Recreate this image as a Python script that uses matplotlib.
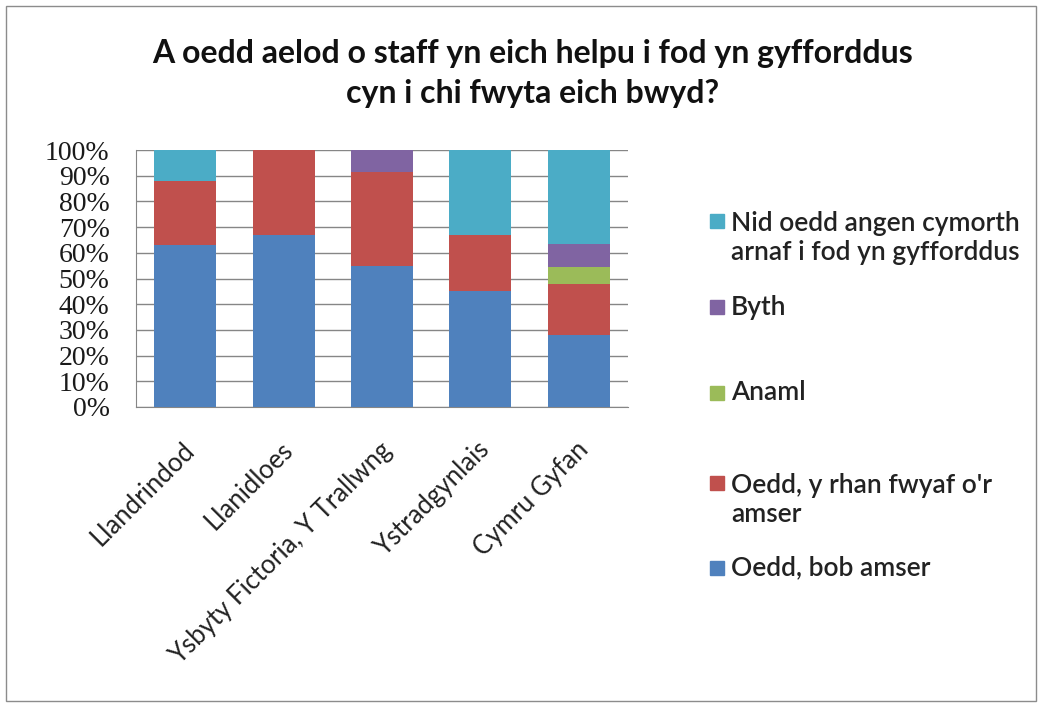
import matplotlib
matplotlib.use("Agg")
import matplotlib.pyplot as plt
from matplotlib.patches import Rectangle
import matplotlib.transforms as mtransforms
import numpy as np

plt.rcParams['font.family'] = ['Lato', 'DejaVu Sans']

categories = ["Llandrindod", "Llanidloes", "Ysbyty Fictoria, Y Trallwng", "Ystradgynlais", "Cymru Gyfan"]
series_names = ["Oedd, bob amser", "Oedd, y rhan fwyaf o'r\namser", "Anaml", "Byth",
                "Nid oedd angen cymorth\narnaf i fod yn gyfforddus"]
oedd_bob_amser = [63, 67, 55, 45, 28]
oedd_rhan_fwyaf = [25, 33, 36.5, 22, 19.7]
anaml = [0, 0, 0, 0, 6.6]
byth = [0, 0, 8.5, 0, 9.3]
nid_oedd_angen = [12, 0, 0, 33, 36.4]
colors = ["#4F81BD", "#C0504D", "#9BBB59", "#8064A2", "#4BACC6"]
yticks = [0, 10, 20, 30, 40, 50, 60, 70, 80, 90, 100]

series = [oedd_bob_amser, oedd_rhan_fwyaf, anaml, byth, nid_oedd_angen]

fig = plt.figure(figsize=(10.42, 7.07), dpi=100)
W, H = 1042, 707
# outer border
fig.patches.append(Rectangle((6 / W, 1 - 701 / H), 1030 / W, 695 / H, transform=fig.transFigure,
                             fill=False, edgecolor="#8c8c8c", linewidth=1.0))

ax = fig.add_axes([136 / W, 1 - 407 / H, 492 / W, 257 / H])
x = np.arange(len(categories))
bottom = np.zeros(len(categories))
for vals, c in zip(series, colors):
    v = np.array(vals, dtype=float)
    ax.bar(x, v, 0.63, bottom=bottom, color=c, zorder=3)
    bottom += v

ax.set_xlim(-0.5, len(categories) - 0.5)
ax.set_ylim(0, 100)
ax.set_yticks(yticks)
ax.set_yticklabels([f"{t}%" for t in yticks], fontsize=20, family=['Liberation Serif', 'DejaVu Serif'],
                   color="#1a1a1a")
ax.yaxis.grid(True, color="#868686", linewidth=1.0, zorder=0)
ax.tick_params(axis='y', length=0, pad=19)
ax.tick_params(axis='x', length=0, pad=28)
ax.set_xticks(x)
ax.set_xticklabels(categories, rotation=45, ha='right', va='center', rotation_mode='anchor',
                   fontsize=18.5, color="#222222")
shift = mtransforms.ScaledTranslation(4 / 72, 0, fig.dpi_scale_trans)
for lab in ax.get_xticklabels():
    lab.set_transform(lab.get_transform() + shift)
for s in ['top', 'right']:
    ax.spines[s].set_visible(False)
ax.spines['left'].set_color("#868686")
ax.spines['bottom'].set_color("#868686")

fig.text(533 / W, 1 - 63 / H, "A oedd aelod o staff yn eich helpu i fod yn gyfforddus",
         ha='center', va='baseline', fontsize=23, fontweight='bold', color="#111111")
fig.text(533 / W, 1 - 103 / H, "cyn i chi fwyta eich bwyd?",
         ha='center', va='baseline', fontsize=23, fontweight='bold', color="#111111")

# legend (top to bottom: reverse order)
legend_y = [238, 307, 393, 500, 568]
for yy, name, c in zip(legend_y, series_names[::-1], colors[::-1]):
    nlines = name.count("\n") + 1
    sq_y = yy - (nlines - 1) * 17
    fig.patches.append(Rectangle((710 / W, 1 - (sq_y + 7) / H), 14 / W, 14 / H,
                                 transform=fig.transFigure, color=c))
    fig.text(731 / W, 1 - yy / H, name, ha='left', va='center', fontsize=19,
             fontweight='semibold', color="#222222", linespacing=1.2)

fig.savefig("out.png", dpi=100)
